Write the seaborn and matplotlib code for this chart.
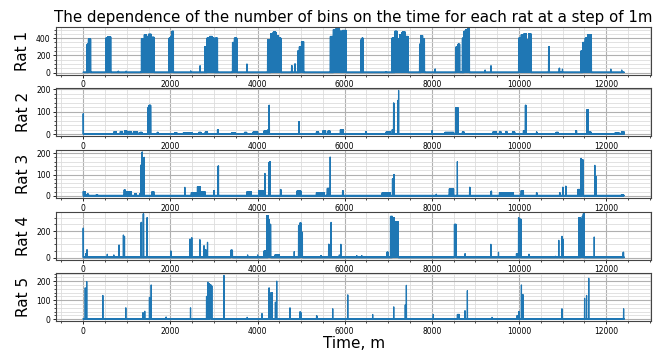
import numpy as np
import matplotlib
matplotlib.use("Agg")
import matplotlib.pyplot as plt
import seaborn as sns

# last minute of the record
LAST_MINUTE = 12410

# bursts: (start minute, end minute, number of bins)
rat1 = [(0, 12410, 3),
        (90, 120, 330), (121, 170, 390), (515, 560, 400), (561, 630, 415),
        (800, 810, 15), (980, 990, 15),
        (1335, 1400, 390), (1401, 1450, 440), (1451, 1500, 420), (1501, 1560, 445), (1561, 1625, 410),
        (1970, 2010, 400), (2011, 2040, 420), (2041, 2070, 480),
        (2465, 2470, 20), (2680, 2685, 80),
        (2790, 2840, 300), (2841, 2900, 400), (2901, 2960, 420), (2961, 3010, 400), (3030, 3080, 400),
        (3425, 3470, 350), (3471, 3525, 400), (3755, 3760, 100),
        (4230, 4300, 380), (4301, 4360, 450), (4361, 4420, 470), (4421, 4480, 430), (4481, 4536, 400),
        (4780, 4790, 80), (4855, 4865, 100),
        (4920, 4960, 250), (4961, 5010, 300), (5011, 5057, 360),
        (5670, 5740, 420), (5741, 5800, 500), (5801, 5880, 510), (5881, 5950, 480), (5951, 6030, 490),
        (6370, 6395, 380), (6396, 6420, 400), (6950, 6960, 10),
        (7084, 7150, 400), (7151, 7200, 480), (7201, 7260, 390), (7261, 7320, 440), (7321, 7390, 470), (7391, 7450, 420),
        (7718, 7750, 330), (7751, 7790, 430), (7791, 7832, 390), (8070, 8080, 40),
        (8557, 8600, 300), (8601, 8640, 330), (8700, 8740, 400), (8741, 8780, 480), (8781, 8820, 500), (8821, 8862, 510),
        (9220, 9225, 30), (9355, 9360, 80),
        (9991, 10050, 400), (10051, 10110, 440), (10111, 10170, 450), (10171, 10220, 380), (10221, 10274, 450),
        (10678, 10690, 300), (10922, 10930, 50), (10995, 11000, 40),
        (11418, 11460, 250), (11461, 11520, 350), (11521, 11580, 400), (11581, 11662, 440),
        (12105, 12110, 40), (12355, 12360, 30)]

rat2 = [(0, 12410, 2),
        (0, 5, 90), (700, 760, 10), (850, 900, 12), (950, 1000, 15), (1050, 1100, 12), (1150, 1250, 10),
        (1300, 1350, 8), (1490, 1510, 120), (1511, 1550, 128), (1700, 1720, 8), (2100, 2150, 6),
        (2300, 2500, 7), (2650, 2700, 8), (2800, 2850, 10), (3080, 3100, 20), (3400, 3500, 5),
        (3700, 3750, 8), (3900, 4000, 10), (4150, 4230, 15), (4240, 4260, 20), (4262, 4270, 128),
        (4950, 4960, 56), (5350, 5400, 10), (5500, 5560, 15), (5620, 5660, 15), (5900, 5960, 20),
        (6480, 6500, 10), (6950, 7050, 10), (7090, 7110, 20), (7120, 7130, 138), (7215, 7220, 150),
        (7235, 7240, 194), (8000, 8010, 15), (8300, 8500, 8), (8550, 8600, 117), (8700, 8740, 10),
        (9400, 9480, 10), (9550, 9580, 12), (9700, 9720, 12), (9850, 9900, 10), (10100, 10140, 15),
        (10145, 10160, 128), (10400, 10410, 10), (10850, 10900, 8), (11300, 11320, 15),
        (11560, 11590, 109), (11600, 11650, 10), (12200, 12300, 5), (12350, 12410, 10)]

rat3 = [(0, 12410, 2),
        (0, 45, 20), (90, 120, 8), (300, 330, 5), (940, 960, 28), (1000, 1100, 20), (1180, 1220, 10),
        (1300, 1320, 10), (1325, 1330, 145), (1350, 1356, 205), (1396, 1402, 180), (1580, 1620, 20),
        (2330, 2335, 40), (2480, 2600, 15), (2620, 2680, 43), (2700, 2790, 20), (3000, 3010, 25),
        (3095, 3105, 140), (3760, 3850, 20), (4030, 4160, 25), (4168, 4172, 105), (4255, 4265, 155),
        (4275, 4290, 160), (4525, 4535, 30), (4900, 5000, 22), (5350, 5530, 15), (5600, 5650, 35),
        (5665, 5670, 182), (5950, 5960, 25), (6860, 7040, 15), (7095, 7105, 80), (7130, 7140, 100),
        (8100, 8105, 8), (8400, 8500, 33), (8583, 8588, 160), (8865, 8875, 40), (9360, 9370, 22),
        (9550, 9870, 15), (10050, 10100, 25), (10400, 10410, 15), (10930, 10940, 15),
        (11000, 11010, 40), (11070, 11080, 45), (11350, 11420, 30), (11423, 11430, 175),
        (11455, 11465, 170), (11738, 11742, 143), (11760, 11770, 90), (12350, 12400, 5)]

rat4 = [(0, 12410, 3),
        (0, 5, 220), (55, 60, 30), (85, 90, 60), (550, 555, 25), (700, 705, 20), (820, 825, 95),
        (920, 925, 170), (945, 950, 160), (1330, 1336, 265), (1378, 1384, 330), (1465, 1472, 300),
        (2010, 2015, 50), (2450, 2455, 140), (2490, 2495, 150), (2675, 2680, 135), (2770, 2775, 90),
        (2810, 2815, 60), (2850, 2855, 115), (3385, 3425, 55), (3770, 3775, 20), (4000, 4005, 20),
        (4150, 4200, 50), (4210, 4240, 315), (4241, 4270, 285), (4271, 4300, 250), (4400, 4500, 20),
        (4840, 4845, 45), (4940, 4970, 240), (4971, 5000, 260), (5001, 5030, 190), (5450, 5455, 15),
        (5630, 5640, 100), (5685, 5690, 265), (5875, 5880, 20), (5910, 5915, 100), (6275, 6280, 15),
        (6390, 6395, 15), (6966, 7000, 40), (7050, 7090, 310), (7091, 7140, 300), (7141, 7225, 270),
        (8517, 8555, 250), (8760, 8765, 30), (9352, 9357, 100), (9527, 9532, 40), (9940, 9985, 30),
        (9988, 9995, 300), (10035, 10042, 290), (10227, 10232, 25), (10835, 10840, 10),
        (10911, 10916, 130), (10985, 10990, 160), (11008, 11013, 140), (11374, 11410, 300),
        (11411, 11450, 290), (11451, 11475, 310), (11476, 11496, 330), (11724, 11729, 155),
        (12390, 12400, 40)]

rat5 = [(0, 12410, 3),
        (44, 48, 165), (78, 82, 198), (448, 452, 125), (975, 979, 60), (1370, 1375, 35),
        (1410, 1415, 42), (1518, 1522, 115), (1558, 1562, 180), (1900, 1905, 12), (2460, 2464, 60),
        (2828, 2832, 120), (2858, 2862, 195), (2870, 2900, 185), (2901, 2930, 180), (2931, 2950, 175),
        (3228, 3232, 230), (3760, 3765, 10), (4100, 4104, 30), (4263, 4267, 165), (4310, 4330, 140),
        (4408, 4412, 90), (4438, 4442, 200), (4743, 4747, 60), (4975, 4980, 40), (4995, 5000, 35),
        (5355, 5360, 18), (5723, 5727, 55), (6068, 6072, 128), (6640, 6644, 25), (7123, 7127, 65),
        (7388, 7392, 75), (7413, 7417, 178), (8030, 8034, 25), (8585, 8630, 25), (8758, 8762, 45),
        (8813, 8817, 150), (9380, 9384, 10), (9955, 9960, 20), (9990, 10000, 40), (10053, 10057, 180),
        (10088, 10092, 130), (10983, 10987, 55), (11503, 11507, 110), (11548, 11552, 125),
        (11598, 11602, 215), (12398, 12402, 55)]

rat_names = ["Rat 1", "Rat 2", "Rat 3", "Rat 4", "Rat 5"]
rat_bursts = [rat1, rat2, rat3, rat4, rat5]


def build_series(bursts):
    # the counts jump between the burst level and zero minute by minute
    y = np.zeros(LAST_MINUTE + 1)
    for start, end, h in bursts:
        y[start:end + 1:2] = h
    return y


minutes = np.arange(LAST_MINUTE + 1)

fig, axes = plt.subplots(5, 1, figsize=(6.61, 3.54), dpi=100)
plt.subplots_adjust(left=0.085, right=0.985, top=0.925, bottom=0.092, hspace=0.28)

for ax, name, bursts in zip(axes, rat_names, rat_bursts):
    sns.lineplot(x=minutes, y=build_series(bursts), ax=ax, estimator=None,
                 color="#1f77b4", linewidth=0.9)
    ax.set_ylabel(name, fontsize=11)
    ax.minorticks_on()
    ax.grid(which="major", color="#b0b0b0", linewidth=0.8)
    ax.grid(which="minor", color="#dddddd", linewidth=0.6)
    ax.tick_params(which="major", labelsize=5.5, length=2.5, width=0.6, pad=1.5)
    ax.tick_params(which="minor", length=1.5, width=0.5)
    for s in ax.spines.values():
        s.set_linewidth(0.8)
        s.set_color("#444444")

axes[0].set_title("The dependence of the number of bins on the time for each rat at a step of 1m",
                  fontsize=10.8, pad=3)
axes[-1].set_xlabel("Time, m", fontsize=11, labelpad=0)

fig.savefig("out.png", dpi=100)
